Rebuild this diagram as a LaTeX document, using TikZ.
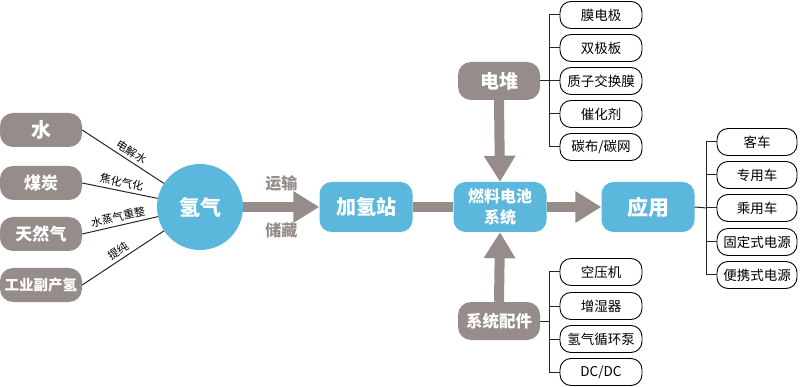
\documentclass[tikz,border=0pt]{standalone}
\usepackage{fontspec}
\setmainfont{Noto Sans CJK SC}
\usetikzlibrary{arrows.meta}
\definecolor{gbox}{HTML}{968D8A}
\definecolor{bbox}{HTML}{5BB7DB}
\newcommand{\fs}[1]{\fontsize{#1}{#1}\selectfont}
\tikzset{
  srcbox/.style={fill=gbox, rounded corners=13, minimum width=82, minimum height=34, text=white, font=\bfseries\fs{17}, inner sep=0},
  bluebox/.style={fill=bbox, rounded corners=12, minimum width=93, minimum height=50, text=white, font=\bfseries\fs{20}, inner sep=0, align=center},
  itembox/.style={draw=black, line width=0.9, fill=white, rounded corners=11, minimum width=82, minimum height=27, font=\fs{13.5}, inner sep=0},
  link/.style={draw=black!85, line width=1},
  bar/.style={draw=gbox, line width=10},
  bigarrow/.style={draw=gbox, line width=10, -{Triangle[length=26pt,width=30pt]}},
  lbl/.style={font=\fs{11}, inner sep=1.5, above=1.5, sloped},
  tree/.style={draw=black!85, line width=1},
}
\begin{document}
\begin{tikzpicture}[x=1pt,y=-1pt]
\useasboundingbox (0,0) rectangle (800,387);
% sources
\node[srcbox, font=\bfseries\fs{20}] (w) at (41,130) {水};
\node[srcbox] (c) at (41,183) {煤炭};
\node[srcbox] (g) at (41,234) {天然气};
\node[srcbox, font=\bfseries\fs{14.5}] (ind) at (41,285) {工业副产氢};
\node[circle, fill=bbox, minimum size=86, inner sep=0, text=white, font=\bfseries\fs{21}] (h) at (200,207) {氢气};
\draw[link] (w.east) -- (h) node[lbl, pos=0.55] {电解水};
\draw[link] (c.east) -- (h) node[lbl, pos=0.5] {焦化气化};
\draw[link] (g.east) -- (h) node[lbl, pos=0.5] {水蒸气重整};
\draw[link] (ind.east) -- (h) node[lbl, pos=0.5] {提纯};
% main chain
\node[bluebox] (st) at (366,207) {加氢站};
\node[bluebox, font=\bfseries\fontsize{16}{21}\selectfont, text width=93, align=center] (fc) at (500,207) {燃料电池\\系统};
\node[bluebox, font=\bfseries\fs{21}] (app) at (648,207) {应用};
\draw[bigarrow] (h.east) -- (st.west) node[midway, above=7, text=gbox, font=\bfseries\fs{16}] {运输} node[midway, below=7, text=gbox, font=\bfseries\fs{16}] {储藏};
\draw[bar] (st.east) -- (fc.west);
\draw[bigarrow] (fc.east) -- (app.west);
% stack
\node[srcbox, minimum height=38, font=\bfseries\fs{19}] (stk) at (499,81) {电堆};
\node[srcbox, minimum height=38, font=\bfseries\fs{16.5}] (acc) at (499,321) {系统配件};
\draw[bigarrow] (stk.south) -- (fc.north);
\draw[bigarrow] (acc.north) -- (fc.south);
% stack items
\coordinate (sb) at (550,81);
\foreach \t/\y/\n in {膜电极/15/s1, 双极板/48/s2, 质子交换膜/81/s3, 催化剂/114/s4, {碳布/碳网}/147/s5}{
  \node[itembox] (\n) at (601,\y) {\t};
}
\draw[tree] (stk.east) -- (sb);
\draw[tree] (s1.west) -- ++(-10,0) |- (s5.west);
\foreach \n in {s2,s3,s4}{ \draw[tree] (\n.west) -- ++(-10,0); }
% accessory items
\coordinate (ab) at (550,321);
\foreach \t/\y/\n in {空压机/272/a1, 增湿器/306/a2, 氢气循环泵/339/a3, {DC/DC}/372/a4}{
  \node[itembox] (\n) at (601,\y) {\t};
}
\draw[tree] (acc.east) -- (ab);
\draw[tree] (a1.west) -- ++(-10,0) |- (a4.west);
\foreach \n in {a2,a3}{ \draw[tree] (\n.west) -- ++(-10,0); }
% application items
\coordinate (pb) at (707,208);
\foreach \t/\y/\n in {客车/142/p1, 专用车/175/p2, 乘用车/208/p3, 固定式电源/242/p4, 便携式电源/275/p5}{
  \node[itembox, minimum width=80] (\n) at (757,\y) {\t};
}
\draw[tree] (app.east) -- (pb);
\draw[tree] (p1.west) -- ++(-10,0) |- (p5.west);
\foreach \n in {p2,p3,p4}{ \draw[tree] (\n.west) -- ++(-10,0); }
\end{tikzpicture}
\end{document}
